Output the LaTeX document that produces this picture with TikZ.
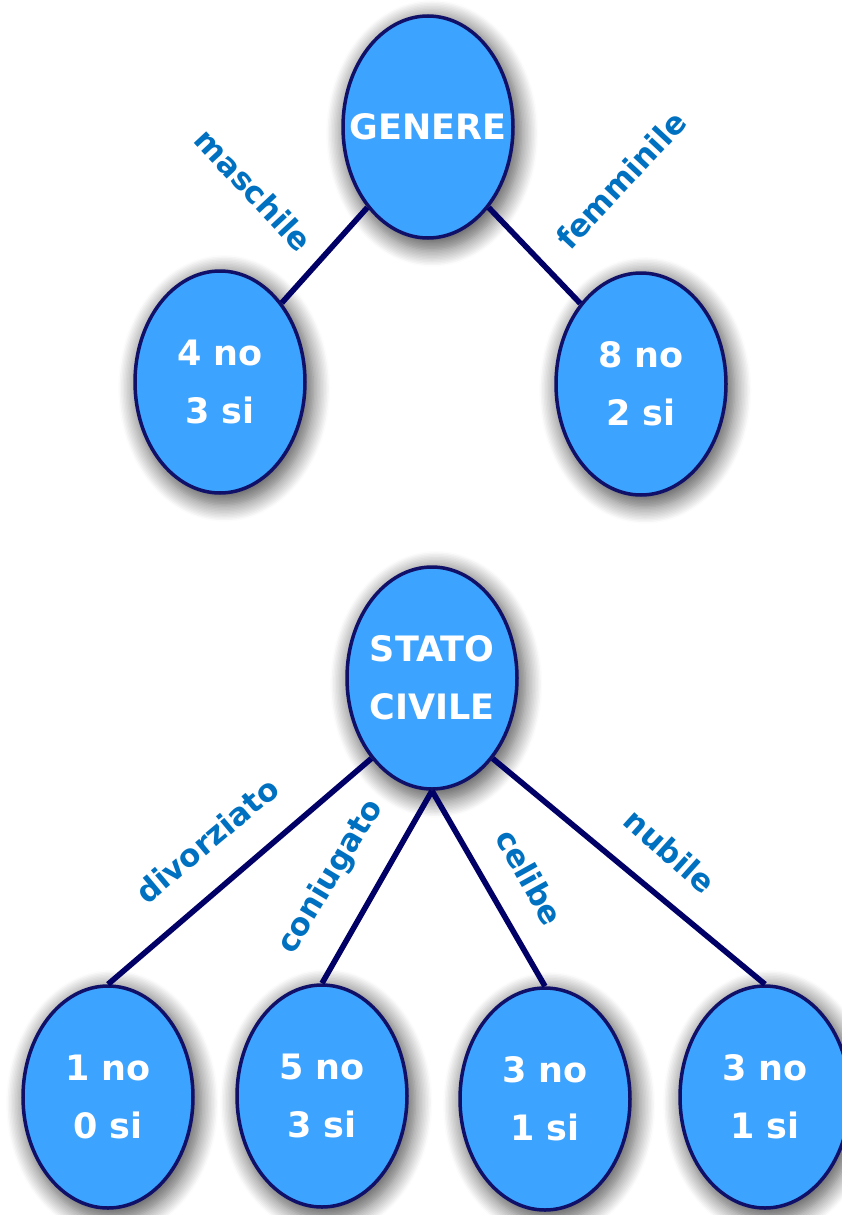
\documentclass[tikz,border=0pt]{standalone}
\usepackage{fontspec}
\setmainfont{DejaVu Sans}
\usetikzlibrary{shapes.geometric}
\usetikzlibrary{shadows.blur}
\usetikzlibrary{positioning}

\definecolor{nodeblue}{RGB}{60,163,255}
\definecolor{rimblue}{RGB}{16,16,104}
\definecolor{edgenavy}{RGB}{0,0,102}
\definecolor{labelblue}{RGB}{0,112,192}

\begin{document}
\begin{tikzpicture}[x=0.5pt, y=-0.5pt,
    attr/.style={ellipse, draw=rimblue, line width=1.75pt, fill=nodeblue,
      minimum width=85pt, minimum height=111pt, inner xsep=-18pt, inner ysep=0pt,
      align=center, text=white, font=\fontsize{17.5}{29}\selectfont\bfseries,
      blur shadow={shadow xshift=2pt, shadow yshift=-3pt,
        shadow blur radius=8pt, shadow blur steps=12, shadow scale=1.05,
        shadow opacity=65}},
    branch/.style={draw=edgenavy, line width=2.8pt},
    value/.style={text=labelblue, font=\fontsize{15.5}{17}\selectfont\bfseries,
      inner sep=0pt}]

        \useasboundingbox (0,0) rectangle (841,1215);

        % First split: gender
        \node[attr] (genere) at (428,127) {GENERE};
        \node[attr] (maschi) at (220,382) {4 no\\3 si};
        \node[attr] (femmin) at (641,384) {8 no\\2 si};

        \draw[branch] (genere.233) -- (maschi.52);
        \draw[branch] (genere.307) -- (femmin.127);

        \node[value, rotate=-47] (lmaschi) at (254,190) {maschile};
        \node[value, rotate=47] (lfemmin) at (621,180) {femminile};

        % Second split: marital status
        \node[attr] (stato) at (432,678) {STATO\\CIVILE};
        \node[attr] (divorz) at (108,1097) {1 no\\0 si};
        \node[attr] (coniug) at (322,1096) {5 no\\3 si};
        \node[attr] (celibe) at (545,1099) {3 no\\1 si};
        \node[attr] (nubile) at (765,1097) {3 no\\1 si};

        \draw[branch] (stato.233) -- (divorz.north);
        \draw[branch] (stato.south) -- (coniug.north);
        \draw[branch] (stato.south) -- (celibe.north);
        \draw[branch] (stato.307) -- (nubile.north);

        \node[value, rotate=40] (ldivorz) at (207,840) {divorziato};
        \node[value, rotate=59] (lconiug) at (331,877) {coniugato};
        \node[value, rotate=-61] (lcelibe) at (530,877) {celibe};
        \node[value, rotate=-42] (lnubile) at (670,851) {nubile};

\end{tikzpicture}
\end{document}
